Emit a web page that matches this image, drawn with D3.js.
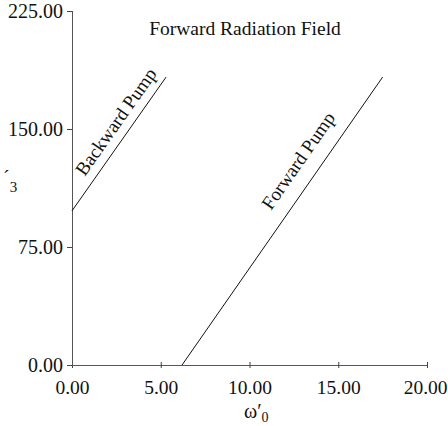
<!DOCTYPE html>
<html><head><meta charset="utf-8">
<script src="https://cdn.jsdelivr.net/npm/d3@7"></script>
<style>body{margin:0;background:#fff}svg{display:block}text{font-family:"Liberation Serif","Times New Roman",serif;fill:#111}</style>
</head><body>
<svg id="c" width="448" height="426"></svg>
<script>
const xTicks = [0, 5, 10, 15, 20];
const yTicks = [0, 75, 150, 225];
const seriesNames = ["Backward Pump", "Forward Pump"];
const backwardX = [0, 5.3];
const backwardY = [98, 183];
const forwardX = [6.2, 17.5];
const forwardY = [0, 183];
const labelFrac = [0.6, 0.667];
const labelOffset = [9, 15];
const title = "Forward Radiation Field";

const svg = d3.select("#c");
const x = d3.scaleLinear().domain([0, 20]).range([72, 427]);
const y = d3.scaleLinear().domain([0, 225]).range([365, 11]);
const fmt = d3.format(".2f");

const xAxis = svg.append("g").attr("transform", "translate(0,365)")
  .call(d3.axisBottom(x).tickValues(xTicks).tickFormat(fmt).tickSize(3).tickPadding(9));
xAxis.selectAll(".tick line").attr("y1", -3).attr("y2", 3);
const yAxis = svg.append("g").attr("transform", "translate(72,0)")
  .call(d3.axisLeft(y).tickValues(yTicks).tickFormat(fmt).tickSize(5).tickPadding(4));
[xAxis, yAxis].forEach(a => {
  a.select(".domain").attr("stroke", "#555").attr("stroke-width", 1);
  a.selectAll(".tick line").attr("stroke", "#444");
  a.selectAll(".tick text").style("font-family", '"Liberation Serif",serif').style("font-size", "20px").attr("fill", "#000");
});
xAxis.selectAll(".tick text").style("font-size", "19.5px").attr("dy", "0.85em");
xAxis.selectAll(".tick text").filter(d => d === 20).attr("text-anchor", "end").attr("x", 20);
yAxis.select(".domain").attr("d", "M0.5,11V365.5");
xAxis.select(".domain").attr("d", "M72,0.5H427");

const series = [
  {name: seriesNames[0], xs: backwardX, ys: backwardY, f: labelFrac[0], off: labelOffset[0]},
  {name: seriesNames[1], xs: forwardX, ys: forwardY, f: labelFrac[1], off: labelOffset[1]}
];
const line = d3.line().x(d => x(d[0])).y(d => y(d[1]));
series.forEach(s => {
  const pts = s.xs.map((v, i) => [v, s.ys[i]]);
  svg.append("path").attr("d", line(pts)).attr("fill", "none").attr("stroke", "#111").attr("stroke-width", 1);
  const p0 = [x(pts[0][0]), y(pts[0][1])], p1 = [x(pts[1][0]), y(pts[1][1])];
  const dx = p1[0] - p0[0], dy = p1[1] - p0[1], L = Math.hypot(dx, dy);
  const ang = Math.atan2(dy, dx) * 180 / Math.PI;
  const nx = dy / L, ny = -dx / L;
  const cx = p0[0] + s.f * dx + nx * s.off, cy = p0[1] + s.f * dy + ny * s.off;
  svg.append("text").attr("transform", `translate(${cx},${cy}) rotate(${ang})`)
    .attr("text-anchor", "middle").style("font-size", "19px").attr("fill", "#000").text(s.name);
});

svg.append("text").attr("x", 245).attr("y", 35).attr("text-anchor", "middle").style("font-size", "19.5px").attr("fill", "#000").text(title);

const yl = svg.append("text").attr("x", 3).attr("y", 185).style("font-size", "20px").attr("fill", "#000");
yl.append("tspan").text("\u00B4");
yl.append("tspan").attr("dy", 7).style("font-size", "15px").text("3");

const xl = svg.append("text").attr("x", 244).attr("y", 418).style("font-size", "20px").attr("fill", "#000");
xl.append("tspan").text("\u03C9\u2032");
xl.append("tspan").attr("dy", 4).style("font-size", "14px").text("0");
</script>
</body></html>
